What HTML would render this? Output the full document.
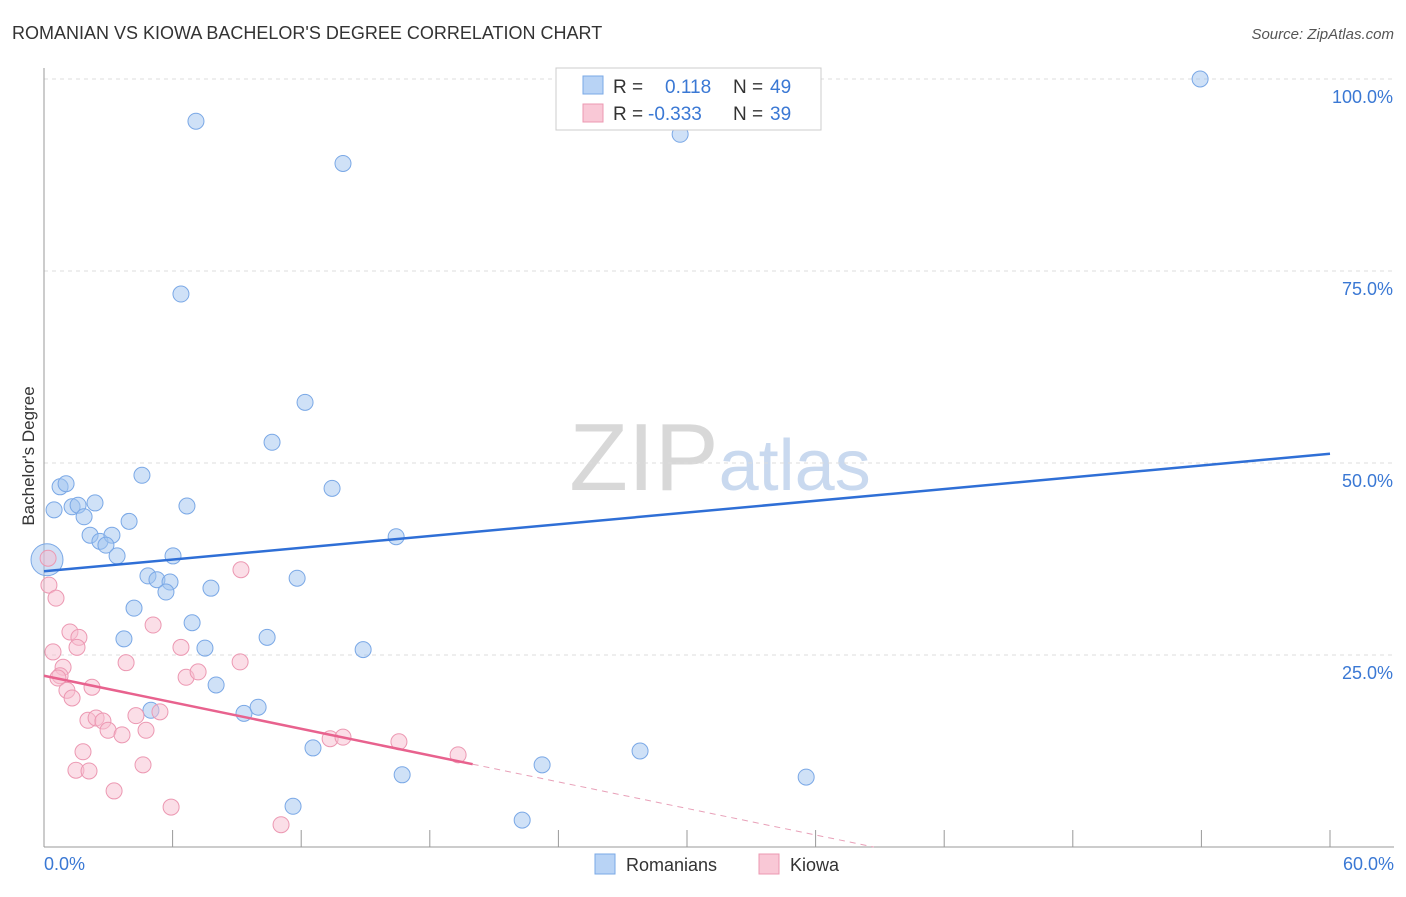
<!DOCTYPE html>
<html><head><meta charset="utf-8"><style>
body{margin:0;background:#fff;font-family:"Liberation Sans",sans-serif;}
svg text{font-family:"Liberation Sans",sans-serif;}
</style></head><body>
<svg id="chart" width="1406" height="892" xmlns="http://www.w3.org/2000/svg">
<text x="12" y="39" font-size="18" fill="#333">ROMANIAN VS KIOWA BACHELOR'S DEGREE CORRELATION CHART</text>
<text x="1394" y="39" font-size="15" fill="#555" text-anchor="end" font-style="italic">Source: ZipAtlas.com</text>
<text x="720" y="490" font-size="96" fill="#ddd" text-anchor="middle" font-family="Liberation Serif"><tspan fill="#d8d8d8">ZIP</tspan><tspan fill="#c9d9ef" font-family="Liberation Sans" font-size="72">atlas</tspan></text>
<g id="grid"></g><g id="axes"></g><g id="marks"></g>
<text transform="translate(34,456) rotate(-90)" font-size="17" fill="#333" text-anchor="middle">Bachelor's Degree</text>
<g>
<rect x="556" y="68" width="265" height="62" fill="#fff" stroke="#ccc"/>
<rect x="583" y="76" width="20" height="18" fill="#b8d3f5" stroke="#7aa8e6"/>
<rect x="583" y="104" width="20" height="18" fill="#f9c8d6" stroke="#ec98b2"/>
<text x="613" y="93" font-size="19" fill="#333">R =</text>
<text x="665" y="93" font-size="19" fill="#3a78d4">0.118</text>
<text x="733" y="93" font-size="19" fill="#333">N =</text>
<text x="770" y="93" font-size="19" fill="#3a78d4">49</text>
<text x="613" y="120" font-size="19" fill="#333">R =</text>
<text x="648" y="120" font-size="19" fill="#3a78d4">-0.333</text>
<text x="733" y="120" font-size="19" fill="#333">N =</text>
<text x="770" y="120" font-size="19" fill="#3a78d4">39</text>
</g>
<g>
<rect x="595" y="854" width="20" height="20" fill="#b8d3f5" stroke="#7aa8e6"/>
<text x="626" y="871" font-size="18" fill="#333">Romanians</text>
<rect x="759" y="854" width="20" height="20" fill="#f9c8d6" stroke="#ec98b2"/>
<text x="790" y="871" font-size="18" fill="#333">Kiowa</text>
</g>
</svg>
<script>
const xTicks=[0,6,12,18,24,30,36,42,48,54,60];
const yTicks=[25,50,75,100];
const yTickLabels=["25.0%","50.0%","75.0%","100.0%"];
const xEndLabels=["0.0%","60.0%"];
const romX=[7.09,13.95,29.68,53.94,6.39,12.18,10.64,4.57,13.44,0.75,1.03,0.47,1.31,1.59,2.38,1.87,3.97,6.67,2.15,2.61,3.17,2.89,3.41,6.02,16.43,4.85,5.27,5.88,5.69,7.79,11.81,4.20,6.91,3.73,7.51,10.41,14.89,8.03,4.99,9.33,9.99,12.55,16.71,23.24,27.81,35.56,11.62,22.31,0.14];
const romY=[94.5,89.0,92.8,100,72.0,57.9,52.7,48.4,46.7,46.9,47.3,43.9,44.3,44.5,44.8,43.0,42.4,44.4,40.6,39.8,40.6,39.3,37.9,37.9,40.4,35.3,34.8,34.5,33.2,33.7,35.0,31.1,29.2,27.1,25.9,27.3,25.7,21.1,17.8,17.4,18.2,12.9,9.4,10.7,12.5,9.1,5.3,3.5,37.4];
const kioX=[0.19,0.23,0.56,0.42,1.21,1.63,1.54,0.89,0.75,0.65,1.07,2.24,1.31,2.05,2.43,2.75,2.99,3.64,4.29,4.76,5.41,3.83,5.09,6.39,6.63,7.19,9.15,9.19,1.82,1.49,2.10,4.62,3.27,5.93,11.06,13.35,13.95,16.56,19.32];
const kioY=[37.6,34.1,32.4,25.4,28.0,27.3,26.0,23.4,22.3,22.0,20.4,20.8,19.4,16.5,16.8,16.4,15.2,14.6,17.1,15.2,17.6,24.0,28.9,26.0,22.1,22.8,24.1,36.1,12.4,10.0,9.9,10.7,7.3,5.2,2.9,14.1,14.3,13.7,12.0];
const romTrend=[35.9,51.2]; // y at x=0 and x=60
const kioTrend=[22.3,-0.576]; // intercept, slope
const kioSolidEnd=20;
const X=v=>44+v*(1286/60), Y=v=>847-v*(768/100);
const NS="http://www.w3.org/2000/svg";
function mk(tag,attrs,parent){const e=document.createElementNS(NS,tag);for(const k in attrs)e.setAttribute(k,attrs[k]);document.getElementById(parent).appendChild(e);return e;}
yTicks.forEach((t,i)=>{
 const g=mk('line',{x1:44,x2:1394,y1:Y(t),y2:Y(t),stroke:'#ddd','stroke-dasharray':'4,4'},'grid');
 
 
 const l=mk('text',{x:1393,y:Y(t)+24,'font-size':18,fill:'#3a78d4','text-anchor':'end'},'axes');
 l.textContent=yTickLabels[i];
 
 
});
let a=mk('line',{x1:44,x2:44,y1:68,y2:847,stroke:'#999'},'axes');


a=mk('line',{x1:44,x2:1394,y1:847,y2:847,stroke:'#999'},'axes');


xTicks.forEach(t=>{const l=mk('line',{x1:X(t),x2:X(t),y1:830,y2:847,stroke:'#999'},'axes');
 
 });
[[0,'start',44],[60,'end',1394]].forEach((d,i)=>{const l=mk('text',{x:d[2],y:870,'font-size':18,fill:'#3a78d4','text-anchor':d[1]},'axes');l.textContent=xEndLabels[i];
 
 });
romX.forEach((x,i)=>{const big=i===romX.length-1;
 const c=mk('circle',{cx:X(x),cy:Y(romY[i]),r:big?16:8,fill:'rgba(160,196,240,0.5)',stroke:'#7aa8e6','stroke-width':1},'marks');
 
 });
kioX.forEach((x,i)=>{
 const c=mk('circle',{cx:X(x),cy:Y(kioY[i]),r:8,fill:'rgba(248,190,208,0.5)',stroke:'#ec98b2','stroke-width':1},'marks');
 
 });
let t=mk('line',{x1:X(0),y1:Y(romTrend[0]),x2:X(60),y2:Y(romTrend[1]),stroke:'#2f6fd6','stroke-width':2.5},'marks');


t=mk('line',{x1:X(0),y1:Y(kioTrend[0]),x2:X(kioSolidEnd),y2:Y(kioTrend[0]+kioTrend[1]*kioSolidEnd),stroke:'#e8628e','stroke-width':2.5},'marks');


const xz=-kioTrend[0]/kioTrend[1];
t=mk('line',{x1:X(kioSolidEnd),y1:Y(kioTrend[0]+kioTrend[1]*kioSolidEnd),x2:X(xz),y2:Y(0),stroke:'#e8a0b8','stroke-width':1,'stroke-dasharray':'6,5'},'marks');


</script>
</body></html>
